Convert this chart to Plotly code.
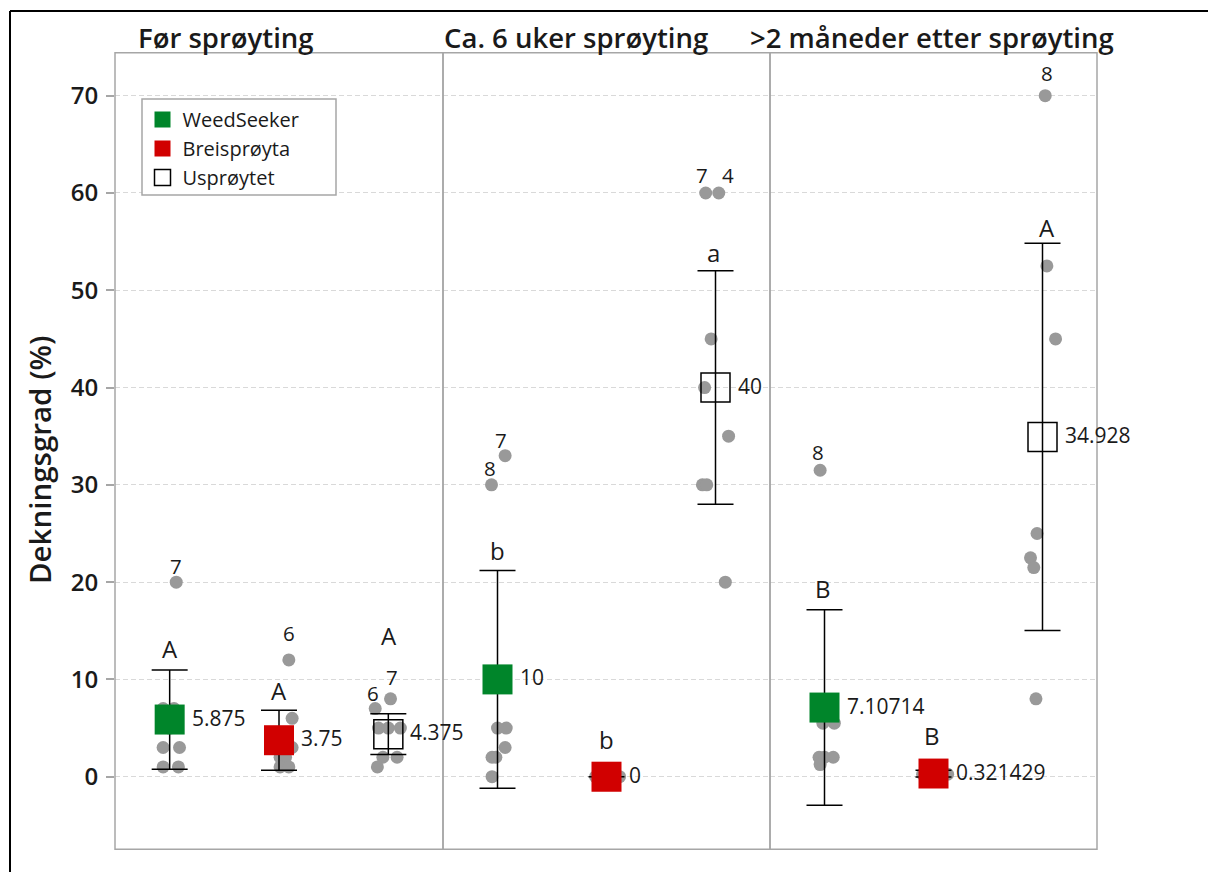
import plotly.graph_objects as go

W, H = 1208, 872

# ---------------- data ----------------
periods = ["Før sprøyting", "Ca. 6 uker sprøyting", ">2 måneder etter sprøyting"]
treatments = ["WeedSeeker", "Breisprøyta", "Usprøytet"]

# observed cover (%) per period -> per treatment
p1_weedseeker = [20, 7, 7, 5, 3, 3, 1, 1]
p1_breis = [12, 6, 3, 3, 2, 2, 1, 1]
p1_usprøytet = [8, 7, 5, 5, 5, 2, 2, 1]

p2_weedseeker = [33, 30, 5, 5, 3, 2, 2, 0]
p2_breis = [0, 0, 0, 0, 0, 0, 0, 0]
p2_usprøytet = [60, 60, 45, 40, 35, 30, 30, 20]

p3_weedseeker = [31.5, 5.5, 5.5, 2, 2, 2, 1.25]
p3_breis = [0.25, 0.25, 0.5, 0.5, 0.25, 0.25, 0.25]
p3_usprøytet = [70, 52.5, 45, 25, 22.5, 21.5, 8]

# horizontal jitter of the points (category units)
p1_weedseeker_jit = [0.06, -0.06, 0.04, 0.0, -0.06, 0.09, -0.06, 0.08]
p1_breis_jit = [0.09, 0.12, 0.12, -0.04, 0.01, 0.06, 0.01, 0.09]
p1_usprøytet_jit = [0.02, -0.12, -0.09, 0.11, 0.0, -0.05, 0.08, -0.10]
p2_weedseeker_jit = [0.07, -0.055, 0.08, 0.0, 0.07, -0.05, -0.015, -0.05]
p2_breis_jit = [0.12, -0.1, -0.05, 0.0, 0.05, 0.08, -0.08, 0.03]
p2_usprøytet_jit = [-0.09, 0.03, -0.04, -0.10, 0.12, -0.12, -0.08, 0.09]
p3_weedseeker_jit = [-0.04, -0.015, 0.09, -0.05, 0.08, 0.0, -0.04]
p3_breis_jit = [0.13, -0.1, 0.05, -0.05, 0.0, 0.08, -0.08]
p3_usprøytet_jit = [0.025, 0.04, 0.12, -0.05, -0.11, -0.08, -0.06]

# estimated means and confidence half-widths
p1_means = [5.875, 3.75, 4.375]
p2_means = [10, 0, 40]
p3_means = [7.10714, 0.321429, 34.928]
p1_ci = [5.1, 3.08, 2.1]
p2_ci = [11.2, 0, 12]
p3_ci = [10.05, 0.35, 19.9]

# grouping letters
p1_letters = ["A", "A", "A"]
p2_letters = ["b", "b", "a"]
p3_letters = ["B", "B", "A"]

# point id labels: (treatment index, point index, text)
p1_ids = [(0, 0, "7"), (1, 0, "6"), (2, 1, "6"), (2, 0, "7")]
p2_ids = [(0, 1, "8"), (0, 0, "7"), (2, 0, "7"), (2, 1, "4")]
p3_ids = [(0, 0, "8"), (2, 0, "8")]

y_ticks = [0, 10, 20, 30, 40, 50, 60, 70]

# ---------------- styling ----------------
FONT = "Open Sans"
TXT = "#1a1a1a"
GRAY_DOT = "#999999"
BORDER = "#a6a6a6"
colors = ["#00852a", "#d10000", "white"]

panel_px = [(115, 443), (443, 770), (770, 1097)]
top_px, bot_px = 52.7, 849.3
title_cx = [226, 576, 932]
legend_box = (142, 99, 336, 195)  # left, top, right, bottom (px)

# id label pixel offsets (dx, dy above)
p1_id_sh = [(0, 16), (0, 27), (-2, 16), (1, 22)]
p2_id_sh = [(-2, 16.5), (-4, 16), (-4, 18), (9, 18)]
p3_id_sh = [(-2, 18.5), (2, 23)]
# letter offsets above the CI top (px)
p1_let_sh = [(0, 21.5), (0, 20), (1, 78)]
p2_let_sh = [(0, 20), (0, 37), (-2, 18)]
p3_let_sh = [(-2, 21), (-2, 35), (4, 15.5)]

panels = [
    dict(obs=[p1_weedseeker, p1_breis, p1_usprøytet],
         jit=[p1_weedseeker_jit, p1_breis_jit, p1_usprøytet_jit],
         means=p1_means, ci=p1_ci, letters=p1_letters, ids=p1_ids,
         id_sh=p1_id_sh, let_sh=p1_let_sh),
    dict(obs=[p2_weedseeker, p2_breis, p2_usprøytet],
         jit=[p2_weedseeker_jit, p2_breis_jit, p2_usprøytet_jit],
         means=p2_means, ci=p2_ci, letters=p2_letters, ids=p2_ids,
         id_sh=p2_id_sh, let_sh=p2_let_sh),
    dict(obs=[p3_weedseeker, p3_breis, p3_usprøytet],
         jit=[p3_weedseeker_jit, p3_breis_jit, p3_usprøytet_jit],
         means=p3_means, ci=p3_ci, letters=p3_letters, ids=p3_ids,
         id_sh=p3_id_sh, let_sh=p3_let_sh),
]

fig = go.Figure()
annotations = []
shapes = []

for pi, p in enumerate(panels):
    xa = "x" if pi == 0 else f"x{pi + 1}"
    # raw observations
    for ti in range(3):
        vals = p["obs"][ti]
        xs = [ti + 1 + j for j in p["jit"][ti]]
        fig.add_trace(go.Scatter(
            x=xs, y=vals, xaxis=xa, yaxis="y", mode="markers",
            marker=dict(color=GRAY_DOT, size=13, line=dict(width=0)),
            showlegend=False, hoverinfo="y"))
    # means with CI
    for ti in range(3):
        m = p["means"][ti]
        if ti < 2:
            mk = dict(symbol="square", size=30, color=colors[ti], line=dict(width=0))
        else:
            mk = dict(symbol="square-open", size=29, color="black", line=dict(width=1.5, color="black"))
        fig.add_trace(go.Scatter(
            x=[ti + 1], y=[m], xaxis=xa, yaxis="y", mode="markers",
            marker=mk, name=treatments[ti], showlegend=(pi == 0),
            error_y=dict(type="data", array=[p["ci"][ti]], visible=True,
                         color="black", thickness=1.5, width=18)))
        annotations.append(dict(
            x=ti + 1, y=m, xref=xa, yref="y", text=f"{m:g}", showarrow=False,
            xanchor="left", yanchor="middle", xshift=20, yshift=2,
            font=dict(family=FONT, size=21, color=TXT)))
        dx, dy = p["let_sh"][ti]
        annotations.append(dict(
            x=ti + 1, y=m + p["ci"][ti], xref=xa, yref="y", text=p["letters"][ti],
            showarrow=False, xanchor="center", yanchor="middle", xshift=dx, yshift=dy,
            font=dict(family=FONT, size=24, color=TXT)))
    # point id labels
    for (ti, k, txt), (dx, dy) in zip(p["ids"], p["id_sh"]):
        annotations.append(dict(
            x=ti + 1 + p["jit"][ti][k], y=p["obs"][ti][k], xref=xa, yref="y",
            text=txt, showarrow=False, xanchor="center", yanchor="middle",
            xshift=dx, yshift=dy, font=dict(family=FONT, size=20.5, color=TXT)))
    # panel title
    annotations.append(dict(
        x=title_cx[pi] / W, y=1 - 37 / H, xref="paper", yref="paper",
        text=periods[pi], showarrow=False, xanchor="center", yanchor="middle",
        font=dict(family=FONT, size=27.5, color=TXT, weight=600)))
    # panel border
    x0, x1 = panel_px[pi]
    shapes.append(dict(type="rect", xref="paper", yref="paper",
                       x0=x0 / W, x1=x1 / W, y0=1 - bot_px / H, y1=1 - top_px / H,
                       line=dict(color=BORDER, width=1.5), layer="above"))

# legend frame (drawn as a shape so its width matches the original)
lb = legend_box
shapes.append(dict(type="rect", xref="paper", yref="paper",
                   x0=lb[0] / W, x1=lb[2] / W, y0=1 - lb[3] / H, y1=1 - lb[1] / H,
                   fillcolor="white", line=dict(color=BORDER, width=1.5), layer="above"))

# y axis title
annotations.append(dict(
    x=40 / W, y=1 - 460 / H, xref="paper", yref="paper", text="Dekningsgrad (%)",
    textangle=-90, showarrow=False, xanchor="center", yanchor="middle",
    font=dict(family=FONT, size=29.5, color=TXT, weight=600)))

# outer black frame lines (top and left)
shapes.append(dict(type="line", xref="paper", yref="paper",
                   x0=10 / W, x1=1, y0=1 - 11 / H, y1=1 - 11 / H,
                   line=dict(color="black", width=2)))
shapes.append(dict(type="line", xref="paper", yref="paper",
                   x0=10 / W, x1=10 / W, y0=0, y1=1 - 11 / H,
                   line=dict(color="black", width=2)))

ydom = [1 - bot_px / H, 1 - top_px / H]
v0, v70 = 776.7, 95.7
ppu = (v0 - v70) / 70.0
yr = [-(bot_px - v0) / ppu, (v0 - top_px) / ppu]

xcommon = dict(range=[0.5, 3.5], showgrid=False, zeroline=False, showticklabels=False,
               ticks="", showline=False, anchor="y")

fig.update_layout(
    width=W, height=H, margin=dict(l=0, r=0, t=0, b=0),
    paper_bgcolor="white", plot_bgcolor="white",
    font=dict(family=FONT, color=TXT),
    xaxis=dict(domain=[panel_px[0][0] / W, panel_px[0][1] / W], **xcommon),
    xaxis2=dict(domain=[panel_px[1][0] / W, panel_px[1][1] / W], **xcommon),
    xaxis3=dict(domain=[panel_px[2][0] / W, panel_px[2][1] / W], **xcommon),
    yaxis=dict(domain=ydom, range=yr, tickvals=y_ticks, ticks="outside", ticklen=8,
               tickcolor=BORDER, tickwidth=1.5, showgrid=True, gridcolor="#d9d9d9",
               griddash="5px,3px", gridwidth=1, zeroline=False, showline=False,
               anchor="x", ticklabelstandoff=3,
               tickfont=dict(family=FONT, size=24, color=TXT, weight=600)),
    legend=dict(x=(lb[0] + 0.5) / W, y=1 - (lb[1] + 1) / H, xanchor="left", yanchor="top",
                bgcolor="rgba(0,0,0,0)", borderwidth=0,
                font=dict(family=FONT, size=20, color=TXT)),
    annotations=annotations, shapes=shapes,
)

fig.write_html("out.html", config={"displayModeBar": False},
               post_script="document.body.style.margin='0';")
